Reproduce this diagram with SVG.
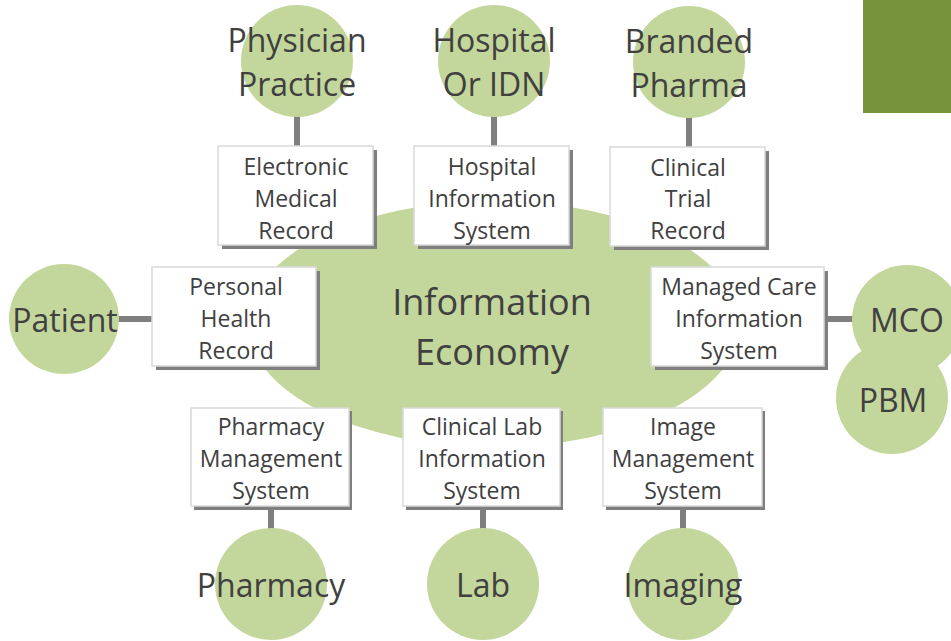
<svg xmlns="http://www.w3.org/2000/svg" width="951" height="641" viewBox="0 0 951 641">
<style>
.bg{fill:#ffffff}
.blob{fill:#C3D69B}
.con{stroke:#7F7F7F;stroke-width:6;fill:none}
.shadow{fill:#7F7F7F}
.box{fill:#ffffff;stroke:#D9D9D9;stroke-width:1.5}
text{font-family:"Open Sans","Noto Sans","DejaVu Sans",sans-serif;fill:#404040;text-anchor:middle}
.bt{font-size:23px}
.ct{font-size:32px}
.mt{font-size:36px}
</style>
<rect class="bg" x="0" y="0" width="951" height="641"/>
<rect x="863" y="0" width="88" height="113" fill="#77933C"/>
<g id="center">
<ellipse class="blob" cx="494" cy="324" rx="246" ry="123"/>
<text class="mt" x="492" y="315">Information</text>
<text class="mt" x="492" y="365">Economy</text>
</g>
<g id="connectors">
<line class="con" x1="297" y1="110" x2="297" y2="147"/>
<line class="con" x1="494" y1="110" x2="494" y2="147"/>
<line class="con" x1="689" y1="110" x2="689" y2="148"/>
<line class="con" x1="112" y1="319" x2="153" y2="319"/>
<line class="con" x1="826" y1="319" x2="858" y2="319"/>
<line class="con" x1="271" y1="508" x2="271" y2="535"/>
<line class="con" x1="483" y1="508" x2="483" y2="535"/>
<line class="con" x1="683" y1="508" x2="683" y2="535"/>
</g>
<g id="physician">
<circle class="blob" cx="297" cy="61" r="56"/>
<text class="ct" x="297" y="52">Physician</text>
<text class="ct" x="297" y="96">Practice</text>
</g>
<g id="hospital">
<circle class="blob" cx="494" cy="61" r="56"/>
<text class="ct" x="494" y="52">Hospital</text>
<text class="ct" x="494" y="96">Or IDN</text>
</g>
<g id="pharma">
<circle class="blob" cx="689" cy="62" r="56"/>
<text class="ct" x="689" y="53">Branded</text>
<text class="ct" x="689" y="97">Pharma</text>
</g>
<g id="patient">
<circle class="blob" cx="64" cy="319" r="55"/>
<text class="ct" x="65" y="332">Patient</text>
</g>
<g id="pbm">
<circle class="blob" cx="892" cy="398" r="56"/>
<text class="ct" x="893" y="412">PBM</text>
</g>
<g id="mco">
<circle class="blob" cx="907" cy="320" r="55"/>
<text class="ct" x="907" y="332">MCO</text>
</g>
<g id="pharmacy">
<circle class="blob" cx="271" cy="584" r="56"/>
<text class="ct" x="271" y="597">Pharmacy</text>
</g>
<g id="lab">
<circle class="blob" cx="483" cy="584" r="56"/>
<text class="ct" x="483" y="597">Lab</text>
</g>
<g id="imaging">
<circle class="blob" cx="683" cy="584" r="56"/>
<text class="ct" x="683" y="597">Imaging</text>
</g>
<g id="emr">
<rect class="shadow" x="222" y="150" width="155" height="99"/>
<rect class="box" x="218" y="146" width="155" height="99"/>
<text class="bt" x="296" y="175">Electronic</text>
<text class="bt" x="296" y="207">Medical</text>
<text class="bt" x="296" y="239">Record</text>
</g>
<g id="his">
<rect class="shadow" x="418" y="150" width="155" height="99"/>
<rect class="box" x="414" y="146" width="155" height="99"/>
<text class="bt" x="492" y="175">Hospital</text>
<text class="bt" x="492" y="207">Information</text>
<text class="bt" x="492" y="239">System</text>
</g>
<g id="ctr">
<rect class="shadow" x="614" y="151" width="155" height="99"/>
<rect class="box" x="610" y="147" width="155" height="99"/>
<text class="bt" x="688" y="176">Clinical</text>
<text class="bt" x="688" y="207">Trial</text>
<text class="bt" x="688" y="239">Record</text>
</g>
<g id="phr">
<rect class="shadow" x="156" y="271" width="164" height="99"/>
<rect class="box" x="152" y="267" width="164" height="99"/>
<text class="bt" x="236" y="295">Personal</text>
<text class="bt" x="236" y="327">Health</text>
<text class="bt" x="236" y="359">Record</text>
</g>
<g id="mcis">
<rect class="shadow" x="655" y="271" width="173" height="99"/>
<rect class="box" x="651" y="267" width="173" height="99"/>
<text class="bt" x="739" y="295">Managed Care</text>
<text class="bt" x="739" y="327">Information</text>
<text class="bt" x="739" y="359">System</text>
</g>
<g id="pms">
<rect class="shadow" x="194" y="411" width="158" height="99"/>
<rect class="box" x="191" y="408" width="158" height="98"/>
<text class="bt" x="271" y="435">Pharmacy</text>
<text class="bt" x="271" y="467">Management</text>
<text class="bt" x="271" y="499">System</text>
</g>
<g id="clis">
<rect class="shadow" x="406" y="411" width="157" height="99"/>
<rect class="box" x="403" y="408" width="157" height="98"/>
<text class="bt" x="482" y="435">Clinical Lab</text>
<text class="bt" x="482" y="467">Information</text>
<text class="bt" x="482" y="499">System</text>
</g>
<g id="ims">
<rect class="shadow" x="606" y="411" width="159" height="99"/>
<rect class="box" x="603" y="408" width="159" height="98"/>
<text class="bt" x="683" y="435">Image</text>
<text class="bt" x="683" y="467">Management</text>
<text class="bt" x="683" y="499">System</text>
</g>
</svg>
